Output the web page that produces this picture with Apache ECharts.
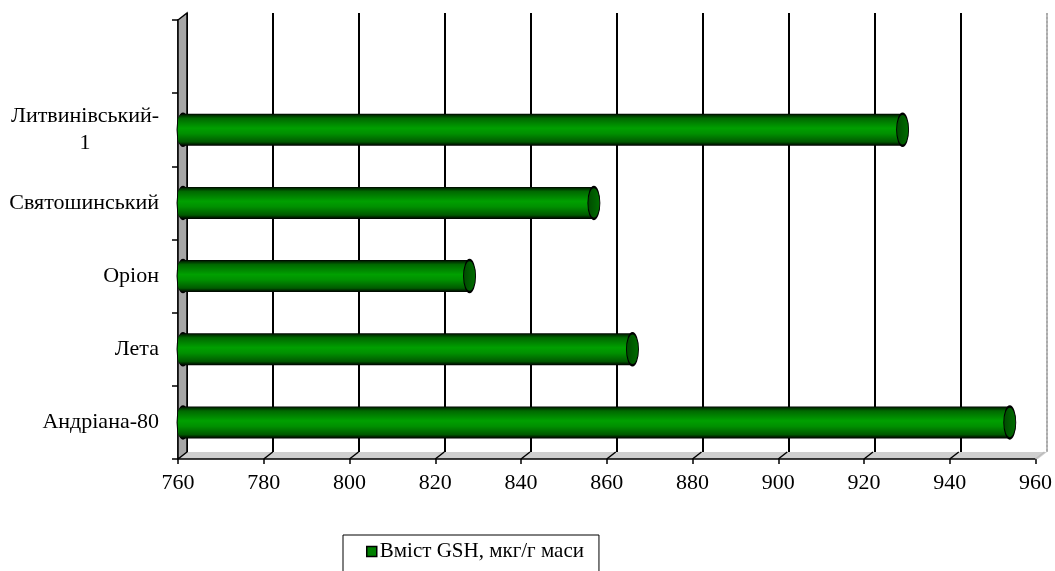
<!DOCTYPE html>
<html lang="uk">
<head>
    <meta charset="UTF-8">
    <title>Вміст GSH</title>
    <script src="https://cdn.jsdelivr.net/npm/echarts@6/dist/echarts.min.js"></script>
    <style>
        html, body { margin: 0; padding: 0; background: #fff; }
        #main { width: 1055px; height: 571px; }
    </style>
</head>
<body>
<div id="main"></div>
<script type="text/javascript">
    // дані діаграми (знизу вгору)
    var categories = ['Андріана-80', 'Лета', 'Оріон', 'Святошинський', 'Литвинівський-1', ''];
    var gshValues = [954, 866, 828, 857, 929];
    var seriesName = 'Вміст GSH, мкг/г маси';
    var xMin = 760, xMax = 960, xStep = 20;

    // геометрія сітки (передня площина) та зсув "3D"
    var G = { left: 178, right: 17, top: 20, bottom: 112 };
    var depth = { dx: 9, dy: 7 };
    var W = 1055, H = 571;
    var font = '"Liberation Serif", "Times New Roman", serif';

    var leftCaps = gshValues.map(function (v, i) { return [xMin, i]; });
    var rightCaps = gshValues.map(function (v, i) { return [v, i]; });

    var capPath = 'path://M5,0 A5,15 0 1,1 5,30 A5,15 0 1,1 5,0 Z';

    var myChart = echarts.init(document.getElementById('main'));
    var option = {
        animation: false,
        backgroundColor: '#fff',
        textStyle: { fontFamily: font },
        grid: [
            { left: G.left, right: G.right, top: G.top, bottom: G.bottom },
            { left: G.left + depth.dx, right: G.right - depth.dx, top: G.top - depth.dy, bottom: G.bottom + depth.dy }
        ],
        legend: {
            data: [seriesName],
            left: 343,
            top: 535,
            itemWidth: 10,
            itemHeight: 10,
            itemGap: 5,
            padding: [6, 15, 20, 23],
            borderColor: '#000',
            borderWidth: 1,
            borderRadius: 0,
            icon: 'rect',
            textStyle: { fontFamily: font, fontSize: 21, color: '#000', padding: [0, 0, 0, -2] },
            itemStyle: { color: '#008000', borderColor: '#000', borderWidth: 1.5 }
        },
        xAxis: [
            {
                gridIndex: 0,
                type: 'value',
                min: xMin,
                max: xMax,
                interval: xStep,
                axisLine: { show: true, lineStyle: { color: '#000', width: 1.5 } },
                axisTick: { show: true, length: 5, lineStyle: { color: '#000', width: 1.5 } },
                axisLabel: { color: '#000', fontSize: 22, fontFamily: font, margin: 13 },
                splitLine: { show: false }
            },
            {
                gridIndex: 1,
                type: 'value',
                min: xMin,
                max: xMax,
                interval: xStep,
                axisLine: { show: false },
                axisTick: { show: false },
                axisLabel: { show: false },
                splitLine: {
                    show: true,
                    lineStyle: {
                        color: ['#000', '#000', '#000', '#000', '#000', '#000', '#000', '#000', '#000', '#000', '#bbb'],
                        width: 2
                    }
                }
            }
        ],
        yAxis: [
            {
                gridIndex: 0,
                type: 'category',
                data: categories,
                axisLine: { show: true, lineStyle: { color: '#000', width: 1.5 } },
                axisTick: { show: true, length: 6, inside: false, lineStyle: { color: '#000', width: 1.5 } },
                axisLabel: {
                    color: '#000',
                    fontSize: 22,
                    fontFamily: font,
                    margin: 19,
                    formatter: function (v) {
                        if (v.indexOf('-1') > 0) {
                            return '{a|' + v.slice(0, -1) + '}\n{b|1}';
                        }
                        return v;
                    },
                    rich: {
                        a: { fontSize: 22, fontFamily: font, color: '#000', lineHeight: 27 },
                        b: { fontSize: 22, fontFamily: font, color: '#000', lineHeight: 27, align: 'center' }
                    }
                }
            },
            {
                gridIndex: 1,
                type: 'category',
                data: categories,
                show: false
            }
        ],
        series: [
            {
                name: seriesName,
                type: 'scatter',
                xAxisIndex: 0,
                yAxisIndex: 0,
                symbol: capPath,
                symbolSize: [12, 32],
                symbolOffset: [5, 0],
                data: leftCaps,
                z: 2,
                itemStyle: { color: '#007a00', borderColor: '#000', borderWidth: 1.5, opacity: 1 },
                emphasis: { disabled: true }
            },
            {
                name: seriesName,
                type: 'bar',
                xAxisIndex: 0,
                yAxisIndex: 0,
                barWidth: 32,
                data: gshValues,
                z: 3,
                itemStyle: {
                    borderRadius: [6, 0, 0, 6],
                    color: new echarts.graphic.LinearGradient(0, 0, 0, 1, [
                        { offset: 0, color: '#000' },
                        { offset: 0.05, color: '#003000' },
                        { offset: 0.14, color: '#006800' },
                        { offset: 0.45, color: '#00a000' },
                        { offset: 0.62, color: '#009000' },
                        { offset: 0.88, color: '#005a00' },
                        { offset: 0.95, color: '#002200' },
                        { offset: 1, color: '#000' }
                    ])
                }
            },
            {
                name: seriesName,
                type: 'scatter',
                xAxisIndex: 0,
                yAxisIndex: 0,
                symbol: capPath,
                symbolSize: [12, 32],
                data: rightCaps,
                z: 4,
                itemStyle: {
                    color: new echarts.graphic.LinearGradient(0, 0, 1, 0, [
                        { offset: 0, color: '#004800' },
                        { offset: 1, color: '#007000' }
                    ]),
                    borderColor: '#000',
                    borderWidth: 1.5,
                    opacity: 1
                },
                emphasis: { disabled: true }
            }
        ]
    };

    myChart.setOption(option);

    // 3D стінка, підлога та косі риски
    var x0 = G.left, y0 = G.top, x1 = W - G.right, y1 = H - G.bottom;
    var decor = [
        {
            type: 'polygon',
            shape: { points: [[x0, y0], [x0 + depth.dx, y0 - depth.dy], [x0 + depth.dx, y1 - depth.dy], [x0, y1]] },
            style: { fill: '#a6a6a6', stroke: '#000', lineWidth: 1.5 },
            z: 1
        },
        {
            type: 'polygon',
            shape: { points: [[x0, y1], [x0 + depth.dx, y1 - depth.dy], [x1 + depth.dx, y1 - depth.dy], [x1, y1]] },
            style: { fill: '#cfcfcf', stroke: null },
            z: 0
        },
        {
            type: 'line',
            shape: { x1: x1 + depth.dx, y1: y0 - depth.dy, x2: x1 + depth.dx, y2: y1 - depth.dy },
            style: { stroke: '#999', lineWidth: 1, lineDash: [2, 2] },
            z: 1
        }
    ];
    for (var v = xMin + xStep; v <= xMax; v += xStep) {
        var px = myChart.convertToPixel({ xAxisIndex: 0 }, v);
        decor.push({
            type: 'line',
            shape: { x1: px, y1: y1, x2: px + depth.dx, y2: y1 - depth.dy },
            style: { stroke: v === xMax ? '#bbb' : '#000', lineWidth: 1.5 },
            z: 1
        });
    }
    myChart.setOption({ graphic: decor });
</script>
</body>
</html>
